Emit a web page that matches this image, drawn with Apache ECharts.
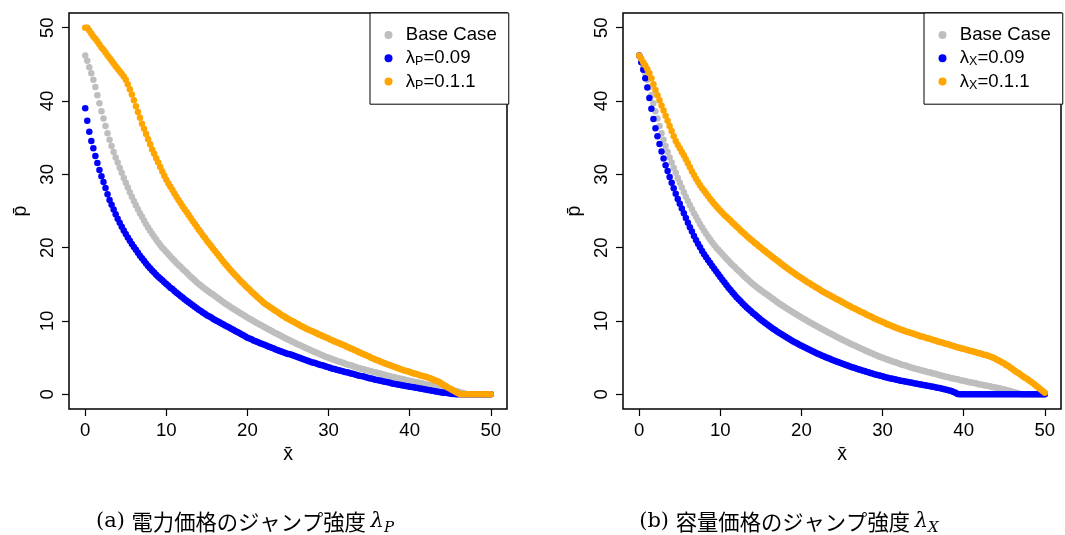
<!DOCTYPE html>
<html>
<head>
<meta charset="utf-8">
<script src="https://cdn.jsdelivr.net/npm/echarts@6/dist/echarts.min.js"></script>
<style>
html,body{margin:0;padding:0;background:#fff;}
#chart{width:1065px;height:535px;}
</style>
</head>
<body>
<div id="chart"></div>
<script>
// ---------- data ----------
const tickValues = [0, 10, 20, 30, 40, 50];

const xs = [
0,0.25,0.5,0.75, 1,1.25,1.5,1.75, 2,2.25,2.5,2.75, 3,3.25,3.5,3.75, 4,4.25,4.5,4.75,
5,5.25,5.5,5.75, 6,6.25,6.5,6.75, 7,7.25,7.5,7.75, 8,8.25,8.5,8.75, 9,9.25,9.5,9.75,
10,10.25,10.5,10.75, 11,11.25,11.5,11.75, 12,12.25,12.5,12.75, 13,13.25,13.5,13.75, 14,14.25,14.5,14.75,
15,15.25,15.5,15.75, 16,16.25,16.5,16.75, 17,17.25,17.5,17.75, 18,18.25,18.5,18.75, 19,19.25,19.5,19.75,
20,20.25,20.5,20.75, 21,21.25,21.5,21.75, 22,22.25,22.5,22.75, 23,23.25,23.5,23.75, 24,24.25,24.5,24.75,
25,25.25,25.5,25.75, 26,26.25,26.5,26.75, 27,27.25,27.5,27.75, 28,28.25,28.5,28.75, 29,29.25,29.5,29.75,
30,30.25,30.5,30.75, 31,31.25,31.5,31.75, 32,32.25,32.5,32.75, 33,33.25,33.5,33.75, 34,34.25,34.5,34.75,
35,35.25,35.5,35.75, 36,36.25,36.5,36.75, 37,37.25,37.5,37.75, 38,38.25,38.5,38.75, 39,39.25,39.5,39.75,
40,40.25,40.5,40.75, 41,41.25,41.5,41.75, 42,42.25,42.5,42.75, 43,43.25,43.5,43.75, 44,44.25,44.5,44.75,
45,45.25,45.5,45.75, 46,46.25,46.5,46.75, 47,47.25,47.5,47.75, 48,48.25,48.5,48.75, 49,49.25,49.5,49.75,
50];

// Base Case (same in both panels)
const baseCase = [
46.2,45.5,44.6,43.8, 42.9,41.9,40.8,39.7, 38.6,37.6,36.6,35.6, 34.7,33.85,33.05,32.3, 31.6,30.9,30.2,29.5,
28.85,28.2,27.55,26.95, 26.35,25.8,25.25,24.7, 24.2,23.7,23.2,22.75, 22.3,21.9,21.5,21.1, 20.7,20.35,20.0,19.7,
19.4,19.1,18.8,18.5, 18.2,17.9,17.65,17.4, 17.1,16.85,16.6,16.3, 16.05,15.8,15.55,15.3, 15.05,14.85,14.6,14.4,
14.2,14.0,13.8,13.6, 13.4,13.2,13.0,12.8, 12.6,12.4,12.2,12.05, 11.85,11.67,11.5,11.32, 11.15,10.98,10.81,10.65,
10.48,10.32,10.16,10.0, 9.84,9.68,9.53,9.37, 9.22,9.07,8.92,8.77, 8.62,8.47,8.33,8.18, 8.04,7.9,7.76,7.62,
7.48,7.35,7.21,7.08, 6.94,6.81,6.68,6.55, 6.42,6.3,6.17,6.05, 5.92,5.8,5.68,5.56, 5.44,5.32,5.2,5.09,
4.98,4.88,4.78,4.68, 4.58,4.49,4.4,4.3, 4.2,4.1,4.0,3.95, 3.85,3.75,3.65,3.6, 3.5,3.45,3.35,3.3,
3.2,3.15,3.05,3.0, 2.95,2.85,2.8,2.7, 2.65,2.55,2.5,2.4, 2.35,2.3,2.2,2.15, 2.1,2.05,1.95,1.9,
1.85,1.8,1.7,1.65, 1.6,1.55,1.5,1.4, 1.35,1.3,1.25,1.2, 1.15,1.1,1.0,0.95, 0.9,0.85,0.8,0.7,
0.65,0.6,0.5,0.45, 0.35,0.3,0.2,0.1, 0.05,0,0,0, 0,0,0,0, 0,0,0,0,
0];

// Panel (a): lambda_P = 0.09
const lamP009 = [
39.0,37.3,35.8,34.55, 33.55,32.5,31.55,30.6, 29.75,28.95,28.15,27.3, 26.5,25.85,25.2,24.55, 23.95,23.4,22.85,22.35,
21.85,21.4,20.95,20.5, 20.1,19.7,19.3,18.9, 18.55,18.2,17.85,17.5, 17.2,16.9,16.6,16.3, 16.05,15.8,15.55,15.3,
15.05,14.8,14.55,14.35, 14.1,13.85,13.65,13.4, 13.2,12.95,12.75,12.55, 12.35,12.15,11.95,11.75, 11.55,11.35,11.15,11.0,
10.8,10.65,10.5,10.3, 10.15,10.0,9.85,9.7, 9.55,9.4,9.25,9.1, 8.95,8.8,8.65,8.5, 8.35,8.2,8.05,7.9,
7.7,7.6,7.5,7.35, 7.25,7.15,7.0,6.9, 6.8,6.7,6.55,6.45, 6.35,6.25,6.1,6.0, 5.9,5.8,5.7,5.6,
5.5,5.45,5.35,5.25, 5.15,5.05,4.95,4.85, 4.75,4.65,4.55,4.45, 4.35,4.3,4.2,4.1, 4.0,3.95,3.85,3.75,
3.7,3.6,3.5,3.45, 3.35,3.3,3.2,3.15, 3.05,3.0,2.95,2.85, 2.8,2.7,2.65,2.55, 2.5,2.45,2.35,2.3,
2.2,2.15,2.1,2.0, 1.95,1.9,1.85,1.75, 1.7,1.65,1.6,1.5, 1.45,1.4,1.35,1.3, 1.25,1.2,1.15,1.1,
1.05,1.0,0.95,0.9, 0.85,0.8,0.75,0.7, 0.65,0.6,0.55,0.5, 0.45,0.4,0.35,0.3, 0.25,0.2,0.2,0.15,
0.1,0.05,0.05,0, 0,0,0,0, 0,0,0,0, 0,0,0,0, 0,0,0,0,
0];

// Panel (a): lambda_P = 0.1.1
const lamP011 = [
50.0,50.0,49.6,49.2, 48.8,48.5,48.1,47.7, 47.3,47.0,46.6,46.2, 45.85,45.5,45.1,44.75, 44.4,44.05,43.7,43.35,
42.9,42.3,41.6,40.9, 40.1,39.3,38.5,37.7, 36.9,36.2,35.5,34.8, 34.1,33.4,32.8,32.2, 31.6,31.0,30.4,29.8,
29.25,28.75,28.3,27.85, 27.4,26.95,26.5,26.1, 25.65,25.25,24.85,24.45, 24.05,23.65,23.25,22.85, 22.45,22.1,21.7,21.35,
20.95,20.6,20.25,19.9, 19.55,19.2,18.85,18.5, 18.15,17.8,17.5,17.15, 16.85,16.55,16.25,15.95, 15.65,15.35,15.1,14.8,
14.55,14.3,14.0,13.75, 13.5,13.25,13.0,12.75, 12.5,12.3,12.1,11.9, 11.75,11.55,11.35,11.2, 11.0,10.8,10.65,10.45,
10.3,10.15,10.0,9.85, 9.7,9.55,9.4,9.25, 9.1,8.95,8.85,8.7, 8.6,8.45,8.35,8.2, 8.1,7.95,7.85,7.7,
7.6,7.45,7.35,7.2, 7.1,7.0,6.85,6.75, 6.65,6.5,6.4,6.25, 6.15,6.0,5.9,5.75, 5.65,5.5,5.4,5.25,
5.15,5.0,4.9,4.75, 4.65,4.55,4.4,4.3, 4.2,4.1,4.0,3.9, 3.8,3.7,3.6,3.5, 3.4,3.3,3.2,3.15,
3.05,2.95,2.85,2.8, 2.7,2.6,2.55,2.45, 2.4,2.3,2.2,2.1, 1.95,1.85,1.75,1.6, 1.4,1.25,1.1,0.9,
0.75,0.6,0.45,0.3, 0.15,0,0,0, 0,0,0,0, 0,0,0,0, 0,0,0,0,
0];

// Panel (b): lambda_X = 0.09
const lamX009 = [
46.2,45.3,44.25,43.1, 41.85,40.4,38.95,37.55, 36.3,35.2,34.15,33.1, 32.15,31.25,30.45,29.65, 28.85,28.1,27.35,26.65,
26.0,25.35,24.7,24.05, 23.4,22.8,22.2,21.6, 21.05,20.55,20.05,19.55, 19.1,18.7,18.3,17.9, 17.5,17.12,16.75,16.37,
16.0,15.64,15.27,14.91, 14.55,14.22,13.9,13.57, 13.25,12.96,12.68,12.39, 12.1,11.85,11.6,11.35, 11.1,10.87,10.64,10.41,
10.18,9.97,9.76,9.55, 9.34,9.15,8.95,8.76, 8.57,8.4,8.22,8.05, 7.87,7.71,7.55,7.38, 7.22,7.07,6.92,6.77,
6.62,6.48,6.35,6.21, 6.07,5.94,5.81,5.68, 5.55,5.43,5.31,5.19, 5.07,4.96,4.84,4.73, 4.62,4.52,4.41,4.31,
4.2,4.1,4.0,3.9, 3.8,3.71,3.62,3.52, 3.43,3.34,3.25,3.17, 3.08,3.0,2.91,2.83, 2.75,2.68,2.6,2.53,
2.45,2.38,2.31,2.24, 2.17,2.11,2.05,1.98, 1.92,1.86,1.81,1.75, 1.7,1.65,1.6,1.54, 1.49,1.44,1.38,1.33,
1.28,1.23,1.18,1.13, 1.08,1.02,0.96,0.9, 0.85,0.79,0.72,0.66, 0.6,0.53,0.45,0.33, 0.2,0.05,0,0,
0,0,0,0, 0,0,0,0, 0,0,0,0, 0,0,0,0, 0,0,0,0,
0,0,0,0, 0,0,0,0, 0,0,0,0, 0,0,0,0, 0,0,0,0,
0];

// Panel (b): lambda_X = 0.1.1
const lamX011 = [
46.2,45.75,45.3,44.85, 44.35,43.8,43.1,42.3, 41.5,40.8,40.1,39.4, 38.7,38.0,37.3,36.6, 35.9,35.2,34.55,34.05,
33.55,33.05,32.6,32.05, 31.5,30.95,30.4,29.9, 29.4,28.95,28.5,28.1, 27.75,27.4,27.0,26.65, 26.3,25.95,25.65,25.35,
25.05,24.75,24.45,24.2, 23.95,23.7,23.4,23.15, 22.9,22.65,22.35,22.1, 21.85,21.6,21.35,21.1, 20.9,20.65,20.45,20.2,
20.0,19.75,19.55,19.3, 19.1,18.9,18.65,18.45, 18.25,18.05,17.8,17.6, 17.4,17.2,17.0,16.8, 16.6,16.4,16.2,16.05,
15.85,15.65,15.5,15.3, 15.15,14.95,14.8,14.6, 14.45,14.3,14.1,13.95, 13.8,13.65,13.5,13.35, 13.2,13.05,12.9,12.75,
12.6,12.45,12.3,12.15, 12.0,11.85,11.75,11.6, 11.45,11.3,11.2,11.05, 10.9,10.75,10.65,10.5, 10.35,10.25,10.1,10.0,
9.85,9.75,9.6,9.5, 9.4,9.3,9.15,9.05, 8.95,8.85,8.75,8.65, 8.55,8.45,8.35,8.3, 8.2,8.1,8.0,7.9,
7.85,7.75,7.65,7.6, 7.5,7.4,7.35,7.25, 7.15,7.1,7.0,6.9, 6.85,6.75,6.65,6.6, 6.5,6.4,6.35,6.25,
6.2,6.1,6.05,5.95, 5.9,5.8,5.75,5.65, 5.6,5.5,5.4,5.35, 5.25,5.15,5.05,4.95, 4.8,4.65,4.5,4.35,
4.2,4.0,3.85,3.65, 3.45,3.25,3.05,2.9, 2.7,2.5,2.3,2.15, 1.95,1.75,1.55,1.35, 1.1,0.9,0.65,0.45,
0.2];

const namesA = ['Base Case', 'λP=0.09', 'λP=0.1.1'];
const namesB = ['Base Case', 'λX=0.09', 'λX=0.1.1'];
const captionA = ['(a) ', '電力価格のジャンプ強度 ', 'λ', 'P'];
const captionB = ['(b) ', '容量価格のジャンプ強度 ', 'λ', 'X'];
const xName = 'x\u0304';
const yName = 'p\u0304';

// ---------- styling ----------
const SANS = '"Liberation Sans", Arial, Helvetica, sans-serif';
const SERIF = '"DejaVu Serif", "Liberation Serif", serif';
const CJK = '"Noto Sans CJK JP", sans-serif';
const COLORS = ['#BEBEBE', '#0000FF', '#FFA500'];
const FS = 18.6;
const pts = ys => xs.map((x, i) => [x, ys[i]]);

function legendFmt(name) {
  const m = name.match(/^λ(.)(.*)$/);
  if (!m) return '{n|' + name + '}';
  return '{n|λ}{s|' + m[1] + '}{n|' + m[2] + '}';
}

const legendRich = {
  n: { fontFamily: SANS, fontSize: FS, color: '#000', lineHeight: 20 },
  s: { fontFamily: SANS, fontSize: 12.5, color: '#000', lineHeight: 13, verticalAlign: 'bottom' }
};

function makeAxisX(gi) {
  return {
    gridIndex: gi, type: 'value', min: -2, max: 52,
    axisLine: { show: false, onZero: false },
    axisTick: { show: true, inside: false, customValues: tickValues, length: 7, lineStyle: { color: '#000', width: 1.2 } },
    axisLabel: { customValues: tickValues, fontSize: FS, fontFamily: SANS, color: '#000', margin: 12 },
    splitLine: { show: false },
    name: xName, nameLocation: 'middle', nameGap: 33,
    nameTextStyle: { fontSize: 19.5, fontFamily: SANS, color: '#000' }
  };
}
function makeAxisY(gi) {
  return {
    gridIndex: gi, type: 'value', min: -2, max: 52,
    axisLine: { show: false, onZero: false },
    axisTick: { show: true, inside: false, customValues: tickValues, length: 7, lineStyle: { color: '#000', width: 1.2 } },
    axisLabel: { customValues: tickValues, fontSize: FS, fontFamily: SANS, color: '#000', margin: 12, rotate: 90 },
    splitLine: { show: false },
    name: yName, nameLocation: 'middle', nameGap: 38, nameRotate: 90,
    nameTextStyle: { fontSize: 19.5, fontFamily: SANS, color: '#000' }
  };
}
function makeLegend(left, names) {
  return {
    orient: 'vertical', left: left, top: 13,
    itemWidth: 24.6, itemHeight: 8, itemGap: 3.3, icon: 'circle',
    padding: [12, 12, 12.6, 14.5],
    borderColor: '#000', borderWidth: 1, backgroundColor: '#fff',
    selectedMode: false,
    data: names,
    formatter: legendFmt,
    textStyle: { fontSize: FS, fontFamily: SANS, color: '#000', lineHeight: 20, rich: legendRich }
  };
}
function makeSeries(gi, name, ys, color) {
  return {
    type: 'scatter', name: name, xAxisIndex: gi, yAxisIndex: gi,
    data: pts(ys), symbol: 'circle', symbolSize: 6.5,
    itemStyle: { color: color, opacity: 1 },
    silent: true, animation: false
  };
}
function caption(x, parts) {
  return {
    type: 'text', x: x, y: 522,
    style: {
      text: '{p|' + parts[0] + '}{j|' + parts[1] + '}{l|' + parts[2] + '}{s|' + parts[3] + '}',
      align: 'center', verticalAlign: 'middle',
      rich: {
        p: { fontFamily: SERIF, fontSize: 21, fill: '#000', color: '#000', lineHeight: 28 },
        j: { fontFamily: CJK, fontSize: 21.3, fill: '#000', color: '#000', lineHeight: 28 },
        l: { fontFamily: SERIF, fontStyle: 'italic', fontSize: 21, fill: '#000', color: '#000', lineHeight: 28 },
        s: { fontFamily: SERIF, fontStyle: 'italic', fontSize: 15, fill: '#000', color: '#000', lineHeight: 17, verticalAlign: 'bottom' }
      }
    }
  };
}

const chart = echarts.init(document.getElementById('chart'), null, { renderer: 'canvas' });
chart.setOption({
  animation: false,
  backgroundColor: '#fff',
  grid: [
    { left: 69, top: 13, width: 438, height: 396, show: true, borderColor: '#000', borderWidth: 1.5, backgroundColor: 'transparent', containLabel: false, outerBoundsMode: 'none' },
    { left: 623, top: 13, width: 438, height: 396, show: true, borderColor: '#000', borderWidth: 1.5, backgroundColor: 'transparent', containLabel: false, outerBoundsMode: 'none' }
  ],
  xAxis: [makeAxisX(0), makeAxisX(1)],
  yAxis: [makeAxisY(0), makeAxisY(1)],
  legend: [makeLegend(370, namesA), makeLegend(924, namesB)],
  tooltip: { show: false },
  series: [
    makeSeries(0, namesA[0], baseCase, COLORS[0]),
    makeSeries(0, namesA[1], lamP009, COLORS[1]),
    makeSeries(0, namesA[2], lamP011, COLORS[2]),
    makeSeries(1, namesB[0], baseCase, COLORS[0]),
    makeSeries(1, namesB[1], lamX009, COLORS[1]),
    makeSeries(1, namesB[2], lamX011, COLORS[2])
  ],
  graphic: [caption(245, captionA), caption(789, captionB)]
});
</script>
</body>
</html>
